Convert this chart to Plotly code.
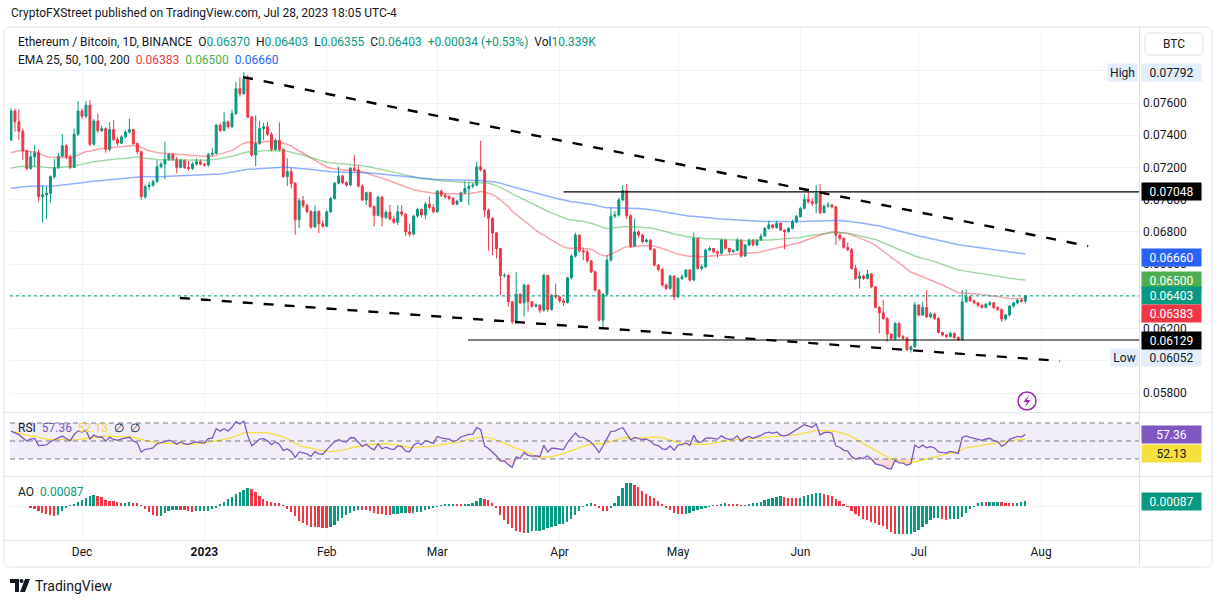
import numpy as np
import pandas as pd
import plotly.graph_objects as go
from plotly.subplots import make_subplots

W, H = 1217, 603

# ---------------------------------------------------------------
# Daily ETH/BTC candles (units of 0.00001 BTC)
# open of each bar = close of the bar before
# ---------------------------------------------------------------
first_day = "2022-11-13"
first_open = 7370
closes = [
    7550, 7483, 7425, 7303, 7194, 7266, 7291, 7019, 7030, 7040,
    7143, 7200, 7270, 7334, 7266, 7200, 7406, 7550, 7518, 7586,
    7344, 7489, 7427, 7441, 7312, 7435, 7373, 7350, 7390, 7420,
    7435, 7349, 7297, 7019, 7081, 7090, 7112, 7205, 7221, 7250,
    7281, 7251, 7200, 7245, 7200, 7194, 7221, 7235, 7220, 7215,
    7281, 7287, 7462, 7430, 7483, 7452, 7534, 7689, 7658, 7750,
    7513, 7277, 7349, 7441, 7452, 7406, 7312, 7369, 7312, 7143,
    7174, 7101, 6875, 6994, 6963, 6926, 6830, 6926, 6850, 6835,
    6924, 7007, 7102, 7147, 7106, 7091, 7194, 7185, 7085, 6998,
    7044, 6957, 6902, 7015, 6891, 6922, 6880, 6860, 6925, 6910,
    6800, 6786, 6898, 6939, 6905, 6972, 6952, 6925, 7053, 7028,
    7018, 7008, 6972, 6991, 7043, 7070, 7084, 7090, 7204, 7184,
    6935, 6884, 6794, 6697, 6527, 6530, 6366, 6242, 6413, 6360,
    6469, 6366, 6339, 6345, 6314, 6531, 6319, 6407, 6397, 6372,
    6362, 6515, 6650, 6780, 6683, 6676, 6620, 6552, 6438, 6252,
    6413, 6625, 6898, 6905, 6998, 7056, 6900, 6712, 6800, 6780,
    6739, 6749, 6692, 6594, 6567, 6470, 6449, 6526, 6397, 6510,
    6522, 6563, 6501, 6760, 6573, 6584, 6687, 6697, 6677, 6667,
    6749, 6698, 6677, 6684, 6749, 6650, 6718, 6749, 6718, 6749,
    6774, 6822, 6843, 6827, 6853, 6812, 6801, 6822, 6863, 6894,
    6946, 7002, 6988, 6977, 7039, 6919, 6960, 6967, 6956, 6780,
    6760, 6704, 6690, 6573, 6511, 6526, 6511, 6538, 6459, 6331,
    6298, 6263, 6166, 6139, 6232, 6150, 6140, 6070, 6087, 6346,
    6284, 6331, 6273, 6290, 6263, 6176, 6160, 6150, 6170, 6145,
    6130, 6366, 6397, 6373, 6360, 6345, 6331, 6350, 6360, 6330,
    6318, 6259, 6284, 6340, 6360, 6377, 6370, 6403,
]
highs = [
    7565, 7565, 7560, 7440, 7310, 7300, 7338, 7310, 7085, 7080,
    7150, 7252, 7290, 7406, 7345, 7280, 7441, 7610, 7565, 7612,
    7617, 7500, 7534, 7460, 7450, 7483, 7493, 7390, 7400, 7430,
    7503, 7440, 7355, 7305, 7095, 7110, 7125, 7245, 7235, 7359,
    7290, 7290, 7265, 7255, 7250, 7240, 7235, 7255, 7250, 7230,
    7290, 7320, 7470, 7475, 7545, 7490, 7559, 7730, 7760, 7792,
    7775, 7520, 7524, 7490, 7480, 7483, 7420, 7380, 7480, 7320,
    7256, 7200, 7110, 7010, 7023, 6975, 6935, 6965, 6935, 6870,
    6935, 7015, 7110, 7204, 7155, 7115, 7204, 7277, 7215, 7095,
    7050, 7050, 6965, 7025, 7025, 6935, 6968, 6900, 6966, 6966,
    6915, 6852, 6905, 6950, 6945, 6985, 7019, 6972, 7060, 7063,
    7040, 7030, 7015, 7000, 7050, 7115, 7110, 7105, 7235, 7366,
    7190, 6945, 6890, 6800, 6700, 6545, 6540, 6370, 6552, 6420,
    6480, 6475, 6370, 6355, 6350, 6540, 6532, 6415, 6480, 6405,
    6390, 6521, 6660, 6795, 6785, 6703, 6690, 6625, 6560, 6445,
    6420, 6656, 6952, 6930, 7010, 7091, 7097, 6910, 6884, 6810,
    6790, 6760, 6755, 6700, 6600, 6575, 6480, 6535, 6530, 6520,
    6535, 6570, 6570, 6796, 6765, 6600, 6695, 6710, 6700, 6685,
    6760, 6755, 6700, 6690, 6760, 6755, 6725, 6760, 6755, 6755,
    6790, 6830, 6870, 6850, 6870, 6860, 6815, 6830, 6875, 6905,
    6955, 7035, 7070, 7010, 7091, 7097, 6970, 6985, 6975, 6960,
    6790, 6765, 6735, 6700, 6595, 6555, 6535, 6565, 6545, 6465,
    6340, 6377, 6270, 6170, 6240, 6240, 6160, 6150, 6095, 6366,
    6350, 6366, 6439, 6300, 6300, 6270, 6180, 6165, 6180, 6175,
    6150, 6439, 6443, 6400, 6380, 6365, 6350, 6360, 6370, 6365,
    6340, 6325, 6290, 6345, 6365, 6385, 6390, 6403,
]
lows = [
    7365, 7421, 7370, 7246, 7180, 7185, 7204, 6988, 6858, 6879,
    6980, 7130, 7190, 7260, 7250, 7190, 7195, 7395, 7500, 7505,
    7330, 7335, 7415, 7420, 7291, 7300, 7365, 7335, 7345, 7380,
    7410, 7340, 7285, 7000, 7005, 7060, 7080, 7105, 7195, 7128,
    7240, 7240, 7163, 7195, 7190, 7180, 7185, 7210, 7212, 7205,
    7205, 7270, 7280, 7420, 7425, 7440, 7445, 7525, 7640, 7650,
    7505, 7265, 7208, 7340, 7370, 7395, 7300, 7305, 7300, 7135,
    7085, 7070, 6782, 6823, 6950, 6915, 6820, 6825, 6792, 6825,
    6830, 6920, 7000, 7095, 7095, 7080, 7085, 7170, 7075, 6990,
    6967, 6950, 6834, 6895, 6834, 6880, 6870, 6850, 6842, 6895,
    6775, 6770, 6780, 6890, 6890, 6880, 6940, 6915, 6920, 7015,
    7005, 6995, 6965, 6965, 6985, 7035, 6966, 7070, 7085, 7175,
    6890, 6683, 6656, 6635, 6407, 6515, 6335, 6227, 6235, 6350,
    6273, 6304, 6330, 6330, 6297, 6305, 6304, 6310, 6385, 6360,
    6340, 6355, 6505, 6640, 6670, 6624, 6610, 6545, 6430, 6242,
    6200, 6400, 6615, 6885, 6895, 6990, 6880, 6700, 6705, 6765,
    6730, 6730, 6685, 6585, 6555, 6460, 6440, 6440, 6376, 6390,
    6500, 6515, 6490, 6495, 6565, 6560, 6575, 6680, 6670, 6640,
    6660, 6690, 6665, 6670, 6680, 6640, 6645, 6710, 6710, 6712,
    6745, 6770, 6815, 6820, 6820, 6805, 6691, 6795, 6815, 6855,
    6890, 6940, 6975, 6960, 6915, 6910, 6915, 6950, 6945, 6718,
    6745, 6695, 6680, 6565, 6500, 6449, 6500, 6505, 6450, 6325,
    6170, 6255, 6118, 6130, 6125, 6140, 6130, 6060, 6052, 6080,
    6275, 6280, 6265, 6265, 6255, 6170, 6150, 6140, 6145, 6135,
    6125, 6125, 6360, 6365, 6350, 6335, 6325, 6325, 6340, 6320,
    6310, 6242, 6250, 6275, 6330, 6350, 6360, 6355,
]

# visible EMA lines (red / green / blue) and their levels at the left edge
ema_red_span, ema_red_start = 50, 0.07281
ema_green_span, ema_green_start = 100, 0.07188
ema_blue_span, ema_blue_start = 200, 0.07066
# Wilder averages going into the first bar
rsi_gain_start = 0.0008
rsi_loss_start = 0.0006

# values printed in the legends / on the scales
ema_last = [0.06383, 0.06500, 0.06660]
rsi_last = 57.36
rsi_ma_last = 52.13
ao_last = 0.00087

month_ticks = ["2022-12-01", "2023-01-01", "2023-02-01", "2023-03-01", "2023-04-01",
               "2023-05-01", "2023-06-01", "2023-07-01", "2023-08-01"]
month_labels = ["Dec", "<b>2023</b>", "Feb", "Mar", "Apr", "May", "Jun", "Jul", "Aug"]
price_ticks = [0.058, 0.060, 0.062, 0.064, 0.066, 0.068, 0.070, 0.072, 0.074, 0.076, 0.078]
hidden_ticks = [0.060, 0.064, 0.078]   # fully covered by the scale badges

# hand drawn lines on the chart
upper_trend_x = ["2023-01-10 19:00", "2023-08-12 22:00"]
upper_trend_y = [0.07761, 0.06712]
lower_trend_x = ["2022-12-25 19:00", "2023-08-05 19:00"]
lower_trend_y = [0.06390, 0.05999]
resistance_level = 0.07048
resistance_from = "2023-04-02"
support_level = 0.06129
support_from = "2023-03-08 19:00"

# ---------------------------------------------------------------
UP = "#089981"
DOWN = "#F23645"
TEXT = "#131722"
GRID = "#F0F3FA"
BORDER = "#E0E3EB"
FONT = "Roboto, Arial, sans-serif"
X_RANGE = ["2022-11-12 18:00", "2023-08-25 19:00"]


def px(x):
    return x / W


def py(y):
    return 1 - y / H


def ema(values, span, start):
    k = 2.0 / (span + 1)
    out, prev = [], start
    for v in values:
        prev = prev + k * (v - prev)
        out.append(prev)
    return np.array(out)


def wilder_rsi(values, prev_close, n=14):
    g, l = rsi_gain_start, rsi_loss_start
    out = []
    for v in values:
        d = v - prev_close
        g = (g * (n - 1) + max(d, 0)) / n
        l = (l * (n - 1) + max(-d, 0)) / n
        out.append(100 - 100 / (1 + g / l))
        prev_close = v
    return np.array(out)


n = len(closes)
dates = pd.date_range(first_day, periods=n, freq="D")
c = np.array(closes) * 1e-5
o = np.concatenate([[first_open * 1e-5], c[:-1]])
h = np.maximum(np.array(highs) * 1e-5, np.maximum(o, c))
l = np.minimum(np.array(lows) * 1e-5, np.minimum(o, c))

ema_red = ema(c, ema_red_span, ema_red_start)
ema_green = ema(c, ema_green_span, ema_green_start)
ema_blue = ema(c, ema_blue_span, ema_blue_start)

rsi = wilder_rsi(c, first_open * 1e-5)
rsi_ma = pd.Series(rsi).rolling(14, min_periods=1).mean().values

median = pd.Series((h + l) / 2)
ao = (median.rolling(5, min_periods=1).mean() - median.rolling(34, min_periods=1).mean()).values
ao_colors = [UP if i == 0 or ao[i] >= ao[i - 1] else DOWN for i in range(n)]
ao_step = max(-ao.min() / 29, ao.max() / 23)

fig = make_subplots(rows=3, cols=1, shared_xaxes=True, vertical_spacing=0)

# ---------------- price pane ----------------
fig.add_trace(go.Candlestick(
    x=dates, open=o, high=h, low=l, close=c,
    increasing=dict(line=dict(color=UP, width=1), fillcolor=UP),
    decreasing=dict(line=dict(color=DOWN, width=1), fillcolor=DOWN),
    whiskerwidth=0, hoverinfo="skip", name="ETHBTC"), row=1, col=1)

for line_y, color in [(ema_red, "rgba(242,54,69,0.45)"), (ema_green, "rgba(76,175,80,0.5)"),
                      (ema_blue, "rgba(41,98,255,0.5)")]:
    fig.add_trace(go.Scatter(x=dates, y=line_y, mode="lines", hoverinfo="skip",
                             line=dict(color=color, width=1.5)), row=1, col=1)

for tx, ty in [(upper_trend_x, upper_trend_y), (lower_trend_x, lower_trend_y)]:
    fig.add_trace(go.Scatter(x=tx, y=ty, mode="lines", hoverinfo="skip",
                             line=dict(color="black", width=2.4, dash="10px,11px")), row=1, col=1)

for lvl, start in [(resistance_level, resistance_from), (support_level, support_from)]:
    fig.add_trace(go.Scatter(x=[start, X_RANGE[1]], y=[lvl, lvl], mode="lines", hoverinfo="skip",
                             line=dict(color="black", width=1.2)), row=1, col=1)

fig.add_shape(type="line", xref="x domain", yref="y", x0=0, x1=1, y0=c[-1], y1=c[-1],
              line=dict(color=UP, width=1, dash="dot"))

# ---------------- RSI pane ----------------
fig.add_shape(type="rect", xref="x2 domain", yref="y2", x0=0, x1=1, y0=30, y1=70,
              fillcolor="rgba(126,87,194,0.1)", line_width=0, layer="below")
for lvl in [70, 50, 30]:
    fig.add_shape(type="line", xref="x2 domain", yref="y2", x0=0, x1=1, y0=lvl, y1=lvl,
                  line=dict(color="#787B86", width=1, dash="5px,4px"))

for base, edge, fillc in [(70, np.maximum(rsi, 70), "rgba(8,153,129,0.18)"),
                          (30, np.minimum(rsi, 30), "rgba(242,54,69,0.18)")]:
    fig.add_trace(go.Scatter(x=dates, y=[base] * n, mode="lines", line=dict(width=0),
                             hoverinfo="skip"), row=2, col=1)
    fig.add_trace(go.Scatter(x=dates, y=edge, mode="lines", line=dict(width=0), fill="tonexty",
                             fillcolor=fillc, hoverinfo="skip"), row=2, col=1)

fig.add_trace(go.Scatter(x=dates, y=rsi_ma, mode="lines", hoverinfo="skip",
                         line=dict(color="#F7E03C", width=1.3)), row=2, col=1)
fig.add_trace(go.Scatter(x=dates, y=rsi, mode="lines", hoverinfo="skip",
                         line=dict(color="#7E57C2", width=1.3)), row=2, col=1)

# ---------------- AO pane ----------------
fig.add_trace(go.Bar(x=dates, y=ao, marker=dict(color=ao_colors, line_width=0),
                     width=0.45 * 86400000, hoverinfo="skip"), row=3, col=1)

# ---------------- axes ----------------
xdom = [px(10), px(1139)]
for name in ["xaxis", "xaxis2", "xaxis3"]:
    fig.layout[name].update(
        domain=xdom, range=X_RANGE, tickvals=month_ticks, ticktext=month_labels,
        showgrid=True, gridcolor=GRID, gridwidth=1, zeroline=False, showline=False,
        ticks="", showticklabels=(name == "xaxis3"), rangeslider=dict(visible=False),
        tickfont=dict(family=FONT, size=12, color=TEXT), ticklabelstandoff=3)

fig.update_layout(
    yaxis=dict(domain=[py(412), py(28)], range=[0.056821, 0.080655], side="right",
               tickvals=price_ticks,
               ticktext=["" if v in hidden_ticks else f"{v:.5f}" for v in price_ticks],
               showgrid=True, gridcolor=GRID, zeroline=False, ticks="",
               tickfont=dict(family=FONT, size=12, color=TEXT), ticklabelstandoff=3),
    yaxis2=dict(domain=[py(476), py(413)], range=[11.1, 81.1], showgrid=False,
                zeroline=False, showticklabels=False, ticks=""),
    yaxis3=dict(domain=[py(540), py(477)], range=[-34 * ao_step, 29 * ao_step], showgrid=False,
                zeroline=True, zerolinecolor=GRID, zerolinewidth=1, showticklabels=False, ticks=""),
)


def rounded_rect(x0, y0, x1, y1, r):
    return (f"M {px(x0 + r)},{py(y0)} L {px(x1 - r)},{py(y0)} Q {px(x1)},{py(y0)} {px(x1)},{py(y0 + r)} "
            f"L {px(x1)},{py(y1 - r)} Q {px(x1)},{py(y1)} {px(x1 - r)},{py(y1)} "
            f"L {px(x0 + r)},{py(y1)} Q {px(x0)},{py(y1)} {px(x0)},{py(y1 - r)} "
            f"L {px(x0)},{py(y0 + r)} Q {px(x0)},{py(y0)} {px(x0 + r)},{py(y0)} Z")


# chart frame and pane separators
fig.add_shape(type="path", xref="paper", yref="paper", path=rounded_rect(4, 27, 1212, 567, 6),
              line=dict(color=BORDER, width=1))
for yy in [412.5, 476.5, 540.5]:
    fig.add_shape(type="line", xref="paper", yref="paper", x0=px(4), x1=px(1212), y0=py(yy), y1=py(yy),
                  line=dict(color=BORDER, width=1))
fig.add_shape(type="line", xref="paper", yref="paper", x0=px(1139.5), x1=px(1139.5), y0=py(27), y1=py(567),
              line=dict(color=BORDER, width=1))

# BTC currency box
fig.add_shape(type="path", xref="paper", yref="paper", path=rounded_rect(1145, 33, 1203, 55, 4),
              line=dict(color=BORDER, width=1), fillcolor="white")


def label(x, y, text, size=12, color=TEXT, anchor="left"):
    fig.add_annotation(x=px(x), y=py(y), xref="paper", yref="paper", xanchor=anchor, yanchor="middle",
                       text=text, showarrow=False, font=dict(family=FONT, size=size, color=color))


label(1174, 44, "BTC", anchor="center")

# lightning icon
fig.add_shape(type="circle", xref="paper", yref="paper", x0=px(1018), x1=px(1036), y0=py(392), y1=py(410),
              line=dict(color="#9C27B0", width=1.5))
fig.add_shape(type="path", xref="paper", yref="paper", line=dict(width=0), fillcolor="#9C27B0",
              path=(f"M {px(1029)},{py(395)} L {px(1023.5)},{py(402)} L {px(1027)},{py(402)} "
                    f"L {px(1025)},{py(407.5)} L {px(1030.5)},{py(400)} L {px(1027)},{py(400)} Z"))

# TradingView logo
fig.add_shape(type="path", xref="paper", yref="paper", line=dict(width=0), fillcolor=TEXT,
              path=(f"M {px(10)},{py(579)} L {px(19)},{py(579)} L {px(19)},{py(592)} L {px(15)},{py(592)} "
                    f"L {px(15)},{py(583)} L {px(10)},{py(583)} Z"))
fig.add_shape(type="circle", xref="paper", yref="paper", line=dict(width=0), fillcolor=TEXT,
              x0=px(19.5), x1=px(23.5), y0=py(579), y1=py(583))
fig.add_shape(type="path", xref="paper", yref="paper", line=dict(width=0), fillcolor=TEXT,
              path=(f"M {px(25)},{py(579)} L {px(30)},{py(579)} L {px(25)},{py(592)} L {px(20)},{py(592)} Z"))
label(33, 585.5, "TradingView", size=14)

# legends
nb = "\u00a0"
label(9, 13, "CryptoFXStreet published on TradingView.com, Jul 28, 2023 18:05 UTC-4", size=12)


def teal(s):
    return f"<span style='color:{UP}'>{s}</span>"


legend1 = (f"Ethereum / Bitcoin, 1D, BINANCE{nb * 2}O{teal('0.06370')}{nb * 2}H{teal('0.06403')}"
           f"{nb * 2}L{teal('0.06355')}{nb * 2}C{teal('0.06403')}{nb * 2}{teal('+0.00034 (+0.53%)')}"
           f"{nb * 2}Vol{teal('10.339K')}")
label(16, 42, legend1)
legend2 = (f"EMA 25, 50, 100, 200{nb * 2}<span style='color:#F23645'>{ema_last[0]:.5f}</span>{nb * 2}"
           f"<span style='color:#4CAF50'>{ema_last[1]:.5f}</span>{nb * 2}"
           f"<span style='color:#2962FF'>{ema_last[2]:.5f}</span>")
label(16, 60, legend2)
legend3 = (f"RSI{nb * 2}<span style='color:#7E57C2'>{rsi_last:.2f}</span>{nb * 2}"
           f"<span style='color:#F2D43D'>{rsi_ma_last:.2f}</span>{nb * 2}\u2205{nb * 2}\u2205")
label(16, 428, legend3)
label(16, 492, f"AO{nb * 2}{teal(f'{ao_last:.5f}')}")


def value_box(text, yref, yval, bg, fg="white", yshift=0, cx=1171.5, w=56):
    fig.add_annotation(x=px(cx), xref="paper", xanchor="center", y=yval, yref=yref, yanchor="middle",
                       text=text, showarrow=False, bgcolor=bg, width=w, height=14, borderpad=1.5,
                       yshift=yshift, font=dict(family=FONT, size=12, color=fg))


HL_BG = "#E3EDFC"
value_box(f"{h.max():.5f}", "y", h.max(), HL_BG, fg=TEXT)
value_box("High", "y", h.max(), HL_BG, fg=TEXT, cx=1122, w=26)
value_box(f"{l.min():.5f}", "y", l.min(), HL_BG, fg=TEXT, yshift=-5)
value_box("Low", "y", l.min(), HL_BG, fg=TEXT, yshift=-5, cx=1124, w=24)
value_box(f"{resistance_level:.5f}", "y", resistance_level, "#000000")
value_box(f"{support_level:.5f}", "y", support_level, "#000000")
value_box(f"{ema_last[2]:.5f}", "y", ema_last[2], "#2962FF", yshift=-3)
value_box(f"{ema_last[1]:.5f}", "y", ema_last[1], "#4CAF50")
value_box(f"{c[-1]:.5f}", "y", c[-1], UP)
value_box(f"{ema_last[0]:.5f}", "y", ema_last[0], "#F23645", yshift=-14)
value_box(f"{rsi_last:.2f}", "y2", rsi_last, "#7E57C2")
value_box(f"{rsi_ma_last:.2f}", "y2", rsi_ma_last, "#F7E03C", fg=TEXT, yshift=-14)
value_box(f"{ao_last:.5f}", "y3", ao_last, UP)

fig.update_layout(
    width=W, height=H, margin=dict(l=0, r=0, t=0, b=0),
    paper_bgcolor="white", plot_bgcolor="white", showlegend=False, bargap=0,
    font=dict(family=FONT, size=12, color=TEXT),
)

fig.write_html("out.html", config={"displayModeBar": False},
               post_script="document.body.style.margin='0px';document.body.style.overflow='hidden';")
